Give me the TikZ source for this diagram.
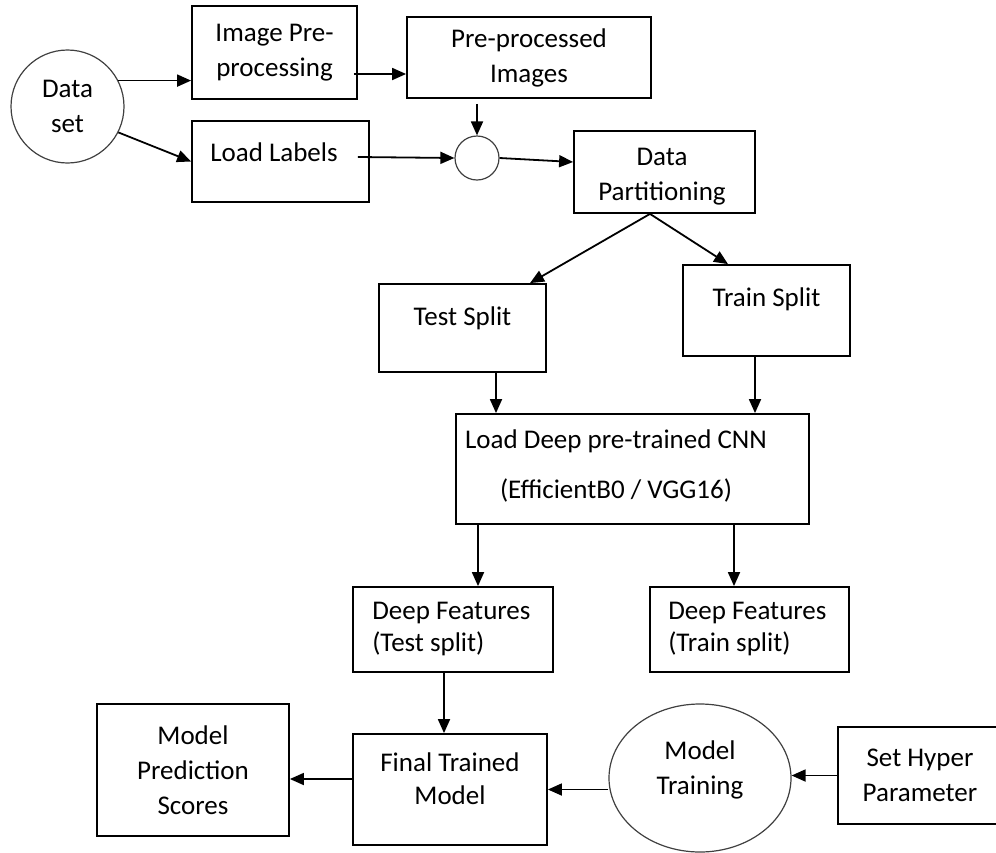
\documentclass[tikz,border=0pt]{standalone}
\usepackage{fontspec}
\setmainfont{Carlito}
\usetikzlibrary{arrows.meta,shapes.geometric,calc}

\begin{document}
\begin{tikzpicture}[x=1pt,y=-1pt,
  every node/.style={font=\fontsize{27}{35}\selectfont, align=center, inner sep=0pt},
  box/.style={draw, line width=1.8pt},
  ring/.style={draw=black!75, line width=1.2pt},
  arr/.style={-{Triangle[length=14pt,width=12pt]}, line width=1.8pt}]
\useasboundingbox (0,0) rectangle (996,852);

\node[ring, circle, minimum size=113pt] (ds) at (67.5,106.5) {Data\\set};
\node[box, minimum width=165pt, minimum height=93pt] (ip) at (274.5,52.5) {Image Pre-\\processing};
\node[box, minimum width=244pt, minimum height=81pt] (pp) at (529,57.5) {Pre-processed\\Images};
\node[box, minimum width=177pt, minimum height=81pt,
  label={[xshift=-6.5pt,yshift=9.5pt]center:Load Labels}] (lab) at (280.5,161.5) {};
\node[ring, circle, minimum size=44pt] (j) at (477,158) {};
\node[box, minimum width=181pt, minimum height=82pt,
  label={[xshift=-2.5pt,yshift=-5pt]center:Data\\Partitioning}] (dp) at (664.5,172) {};
\node[box, minimum width=167pt, minimum height=88pt,
  label={[yshift=10pt]center:Test Split}] (ts) at (462.5,328) {};
\node[box, minimum width=167pt, minimum height=91pt,
  label={[yshift=11.5pt]center:Train Split}] (tr) at (766.5,310.5) {};
\node[box, minimum width=353pt, minimum height=110pt,
  label={[xshift=-16.5pt,yshift=3pt]center:Load Deep pre-trained CNN\\[15pt](EfficientB0 / VGG16)}] (cnn) at (632.5,469) {};
\node[box, minimum width=200pt, minimum height=85pt,
  label={[anchor=west,align=left,xshift=20pt]west:Deep Features\\[-3pt](Test split)}] (dft) at (453,629.5) {};
\node[box, minimum width=199pt, minimum height=85pt,
  label={[anchor=west,align=left,xshift=19pt]west:Deep Features\\[-3pt](Train split)}] (dftr) at (749.5,629.5) {};
\node[box, minimum width=194pt, minimum height=111pt,
  label={[yshift=11pt]center:Final Trained\\[-2pt]Model}] (fin) at (450,789.5) {};
\node[box, minimum width=192pt, minimum height=132pt] (mps) at (193,770) {Model\\Prediction\\Scores};
\node[ring, ellipse, minimum width=182pt, minimum height=148pt,
  label={[yshift=8pt]center:Model\\Training}] (mt) at (700,778) {};
\node[box, minimum width=164pt, minimum height=97pt] (shp) at (920,775.5) {Set Hyper\\Parameter};

\draw[arr] (ds.27) -- (ds.27 -| ip.west);
\draw[arr] (ds.-27) -- (lab.west);
\draw[arr] ($(ip.east)+(-4,21.5)$) -- ($(pp.west)+(0,16.5)$);
\draw[arr] ($(lab.east)+(-12,-4.5)$) -- (j.west);
\draw[arr] ($(j |- pp.south)+(0,5)$) -- (j.north);
\draw[arr] (j.east) -- ($(dp.west)+(0,-10)$);
\draw[arr] ($(dp.south)+(-14.5,0)$) -- ($(ts.north)+(67.5,0)$);
\draw[arr] ($(dp.south)+(-14.5,0)$) -- ($(tr.north)+(-38.5,0)$);
\draw[arr] ($(ts.south)+(33.5,0)$) -- ($(cnn.north)+(-136.5,0)$);
\draw[arr] ($(tr.south)+(-11.5,0)$) -- ($(cnn.north)+(122.5,0)$);
\draw[arr] ($(cnn.south)+(-154.5,0)$) -- ($(dft.north)+(25,0)$);
\draw[arr] ($(cnn.south)+(101.5,0)$) -- ($(dftr.north)+(-15.5,0)$);
\draw[arr] ($(dft.south)+(-9,0)$) -- ($(fin.north)+(-6,0)$);
\draw[arr] ($(fin.west)+(0,-10.5)$) -- ($(mps.east)+(0,9)$);
\draw[arr] (mt.west |- fin.east) -- (fin.east);
\draw[arr] (shp.west) -- (shp.west -| mt.east);
\end{tikzpicture}
\end{document}
